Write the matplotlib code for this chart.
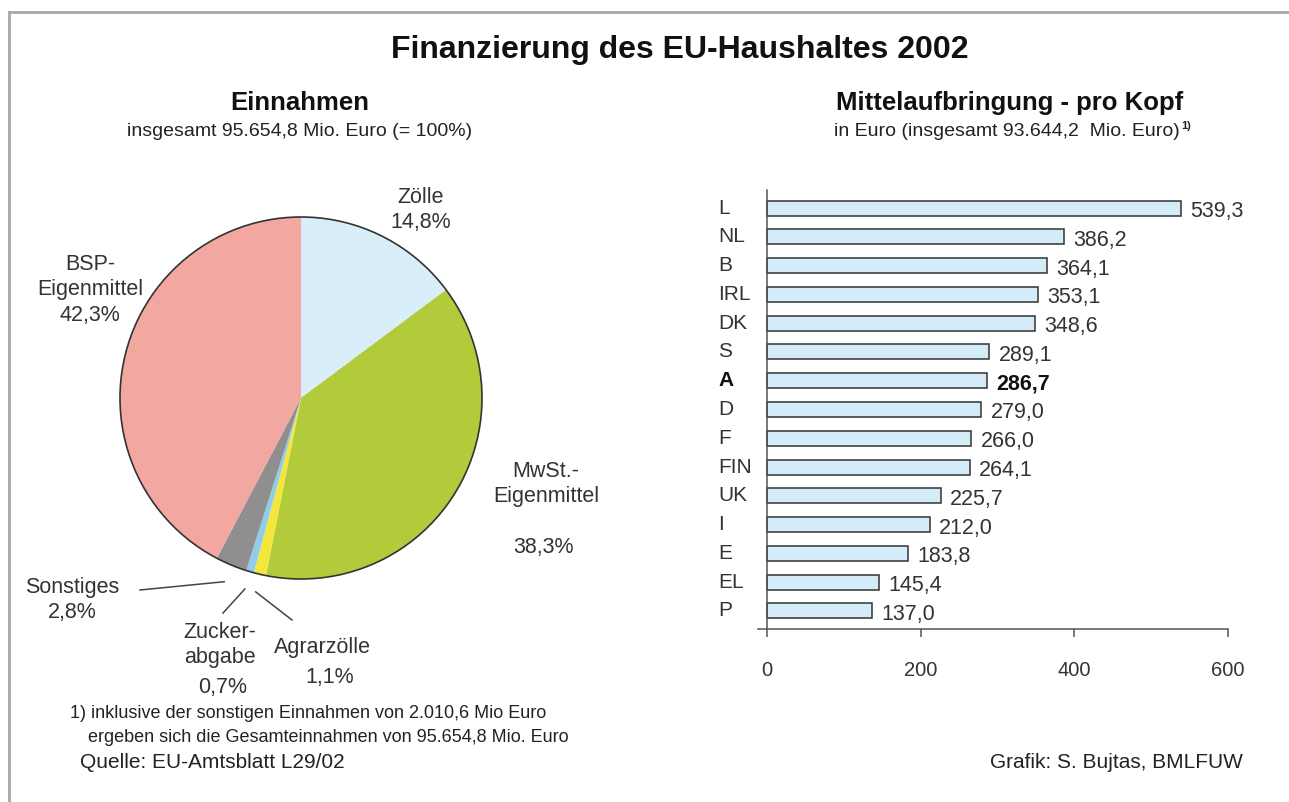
import matplotlib
matplotlib.use("Agg")
import matplotlib.pyplot as plt
import numpy as np
from matplotlib.lines import Line2D

plt.rcParams['font.family'] = ['Liberation Sans', 'DejaVu Sans']

# Einnahmen (pie), clockwise from 12 o'clock
pie_labels = ['Zölle', 'MwSt.-Eigenmittel', 'Agrarzölle', 'Zuckerabgabe', 'Sonstiges', 'BSP-Eigenmittel']
pie_shares = [14.8, 38.3, 1.1, 0.7, 2.8, 42.3]
pie_colors = ['#d8eef8', '#b2cb3b', '#f5e63e', '#90cdea', '#8f8f8f', '#f2a7a1']

# Mittelaufbringung pro Kopf (bars)
countries = ['L', 'NL', 'B', 'IRL', 'DK', 'S', 'A', 'D', 'F', 'FIN', 'UK', 'I', 'E', 'EL', 'P']
per_head = [539.3, 386.2, 364.1, 353.1, 348.6, 289.1, 286.7, 279.0, 266.0, 264.1,
            225.7, 212.0, 183.8, 145.4, 137.0]
x_ticks = [0, 200, 400, 600]

W, H = 1289, 802
fig = plt.figure(figsize=(W / 100, H / 100), dpi=100)


def fx(px):
    return px / W


def fy(py):
    return 1 - py / H


def de(v):
    return f"{v:.1f}".replace('.', ',')


# frame of the scanned sheet
fig.add_artist(Line2D([fx(9), fx(1289)], [fy(12), fy(12)], color='#a8a8a8', lw=2))
fig.add_artist(Line2D([fx(9), fx(9)], [fy(12), fy(802)], color='#a8a8a8', lw=2))

fig.text(fx(680), fy(50), 'Finanzierung des EU-Haushaltes 2002', ha='center', va='center',
         fontsize=23, fontweight='bold', color='#111111')

# ---- pie ----
fig.text(fx(300), fy(103), 'Einnahmen', ha='center', va='center', fontsize=18.5,
         fontweight='bold', color='#111111')
fig.text(fx(300), fy(131), 'insgesamt 95.654,8 Mio. Euro (= 100%)', ha='center', va='center',
         fontsize=14, color='#222222')

R = 181.0  # pie radius in pixels
cx, cy = 301, 398
ax1 = fig.add_axes([fx(cx - 200), fy(cy + 200), 400 / W, 400 / H])
wedges, _ = ax1.pie(pie_shares, colors=pie_colors, startangle=90, counterclock=False,
                    wedgeprops=dict(linewidth=0))
ax1.add_patch(plt.Circle((0, 0), 1, fill=False, edgecolor='#333333', lw=1.2))
lim = 200 / R
ax1.set_xlim(-lim, lim)
ax1.set_ylim(-lim, lim)
ax1.set_aspect('equal')
ax1.axis('off')


def to_data(px, py):
    return (px - cx) / R, (cy - py) / R


# leader lines for the three small slices
bounds = np.concatenate([[0], np.cumsum(pie_shares)])
leader_ends = {2: (292, 620), 3: (223, 613), 4: (140, 590)}
for i, (ex, ey) in leader_ends.items():
    mid = (bounds[i] + bounds[i + 1]) / 2 / 100 * 360
    ang = np.deg2rad(90 - mid)
    sx, sy = 1.1 * np.cos(ang), 1.1 * np.sin(ang)
    tx, ty = to_data(ex, ey)
    ax1.plot([sx, tx], [sy, ty], color='#444444', lw=1.1, clip_on=False)

lab_kw = dict(ha='center', va='center', fontsize=15.5, color='#333333', linespacing=1.3)
fig.text(fx(421), fy(210), 'Zölle\n' + de(pie_shares[0]) + '%', **lab_kw)
fig.text(fx(546), fy(484), 'MwSt.-\nEigenmittel', **lab_kw)
fig.text(fx(543), fy(547), de(pie_shares[1]) + '%', **lab_kw)
fig.text(fx(322), fy(647), 'Agrarzölle', **lab_kw)
fig.text(fx(330), fy(677), de(pie_shares[2]) + '%', **lab_kw)
fig.text(fx(220), fy(645), 'Zucker-\nabgabe', **lab_kw)
fig.text(fx(223), fy(688), de(pie_shares[3]) + '%', **lab_kw)
fig.text(fx(72), fy(600), 'Sonstiges\n' + de(pie_shares[4]) + '%', **lab_kw)
fig.text(fx(90), fy(290), 'BSP-\nEigenmittel\n' + de(pie_shares[5]) + '%', **lab_kw)

foot_kw = dict(ha='left', va='center', fontsize=13, color='#222222')
fig.text(fx(70), fy(714), '1) inklusive der sonstigen Einnahmen von 2.010,6 Mio Euro', **foot_kw)
fig.text(fx(88), fy(737), 'ergeben sich die Gesamteinnahmen von 95.654,8 Mio. Euro', **foot_kw)
fig.text(fx(80), fy(762), 'Quelle: EU-Amtsblatt L29/02', ha='left', va='center', fontsize=15,
         color='#222222')
fig.text(fx(1243), fy(762), 'Grafik: S. Bujtas, BMLFUW', ha='right', va='center', fontsize=15,
         color='#222222')

# ---- bars ----
fig.text(fx(1010), fy(103), 'Mittelaufbringung - pro Kopf', ha='center', va='center', fontsize=18.5,
         fontweight='bold', color='#111111')
fig.text(fx(1180), fy(131), 'in Euro (insgesamt 93.644,2  Mio. Euro)', ha='right', va='center',
         fontsize=14, color='#222222')
fig.text(fx(1181), fy(126), '1)', ha='left', va='center', fontsize=8, fontweight='bold',
         color='#222222')

ax2 = fig.add_axes([fx(758), fy(629), (1228 - 758) / W, (629 - 190) / H])
ypos = np.arange(len(countries))
ax2.barh(ypos, per_head, height=0.52, color='#d4ecf7', edgecolor='#333333', linewidth=1.1)
ax2.set_xlim(-12, 600)
ax2.set_ylim(len(countries) - 1 + 0.63, -0.63)
ax2.spines['top'].set_visible(False)
ax2.spines['right'].set_visible(False)
ax2.spines['left'].set_position(('data', 0))
for s in ('left', 'bottom'):
    ax2.spines[s].set_color('#555555')
    ax2.spines[s].set_linewidth(1.1)
ax2.set_yticks([])
ax2.set_xticks(x_ticks)
ax2.set_xticklabels([str(t) for t in x_ticks])
ax2.tick_params(axis='x', direction='out', length=6, width=1.1, color='#555555', pad=17,
                labelsize=14.5, labelcolor='#333333')

for y, c, v in zip(ypos, countries, per_head):
    w = 'bold' if c == 'A' else 'normal'
    col = '#111111' if c == 'A' else '#333333'
    ax2.text(-64, y, c, ha='left', va='center', fontsize=15, fontweight=w, color=col, clip_on=False)
    ax2.text(v + 12, y + 0.12, de(v), ha='left', va='center', fontsize=15.5, fontweight=w,
             color=col, clip_on=False)

fig.savefig('out.png', dpi=100)
